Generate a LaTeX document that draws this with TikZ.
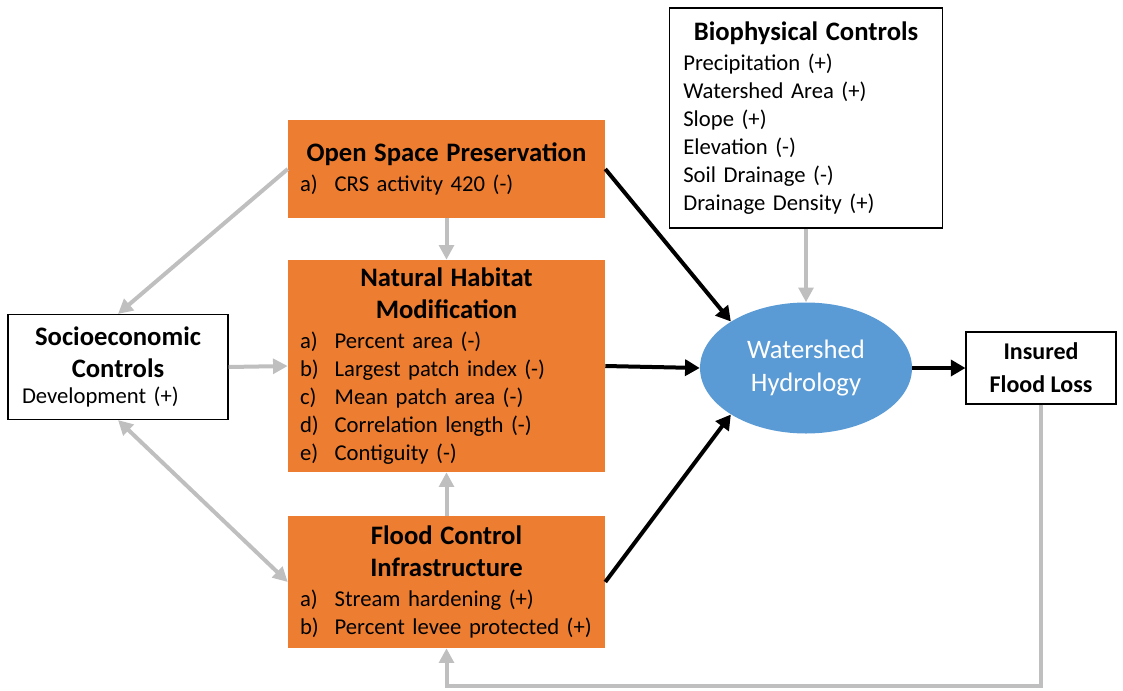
\documentclass[tikz,border=0pt]{standalone}
\usepackage{fontspec}
\setmainfont{Carlito}
\usetikzlibrary{arrows.meta,shapes.geometric}

\definecolor{boxorange}{HTML}{ED7D31}
\definecolor{hydblue}{HTML}{5B9BD5}
\definecolor{linkgray}{HTML}{BFBFBF}

\newcommand{\hd}[1]{\makebox[\hsize][c]{\bfseries\fontsize{20}{24}\selectfont #1}}
\newcommand{\itm}[2]{\makebox[26pt][l]{#1}#2}

\begin{document}
\begin{tikzpicture}[x=0.75pt, y=-0.75pt,
  orangebox/.style={fill=boxorange, inner xsep=9pt, inner ysep=0pt, text width=219.75pt,
    align=left, font=\fontsize{17}{21}\selectfont},
  whitebox/.style={draw, line width=0.8pt, fill=white, inner xsep=10.5pt, inner ysep=0pt,
    align=left, font=\fontsize{17}{21}\selectfont},
  graylink/.style={draw=linkgray, line width=3pt, -{Triangle[length=11pt,width=11pt]}},
  graylinkboth/.style={draw=linkgray, line width=3pt, {Triangle[length=11pt,width=11pt]}-{Triangle[length=11pt,width=11pt]}},
  blacklink/.style={draw=black, line width=3pt, -{Triangle[length=11pt,width=12pt]}}]
\useasboundingbox (0,0) rectangle (1123,690);

% driver boxes
\node[orangebox, minimum height=73.5pt] (osp) at (446.5,169) {\hd{Open Space Preservation}\\[1pt]
  \itm{a)}{CRS activity 420 (-)}};
\node[orangebox, minimum height=159pt] (nhm) at (446.5,366) {\hd{Natural Habitat}\\[3pt]
  \hd{Modification}\\[2pt]
  \itm{a)}{Percent area (-)}\\
  \itm{b)}{Largest patch index (-)}\\
  \itm{c)}{Mean patch area (-)}\\
  \itm{d)}{Correlation length (-)}\\
  \itm{e)}{Contiguity (-)}};
\node[orangebox, minimum height=99pt] (fci) at (446.5,582) {\hd{Flood Control}\\[3pt]
  \hd{Infrastructure}\\[2pt]
  \itm{a)}{Stream hardening (+)}\\
  \itm{b)}{Percent levee protected (+)}};

% controls
\node[whitebox, text width=144pt, minimum height=78.75pt] (soc) at (118,367) {\hd{Socioeconomic}\\[3pt]
  \hd{Controls}\\[-1pt]
  Development (+)};
\node[whitebox, text width=184pt, minimum height=165pt] (bio) at (806,118) {\hd{Biophysical Controls}\\[1pt]
  Precipitation (+)\\
  Watershed Area (+)\\
  Slope (+)\\
  Elevation (-)\\
  Soil Drainage (-)\\
  Drainage Density (+)};

% outcome
\node[ellipse, fill=hydblue, text=white, inner sep=0pt, minimum width=159pt, minimum height=98.25pt,
  align=center, font=\fontsize{20}{24.75}\selectfont] (hyd) at (806,368) {Watershed\\Hydrology};
\node[draw, line width=0.8pt, minimum width=112.5pt, minimum height=54pt, inner sep=0pt, align=center,
  font=\bfseries\fontsize{18}{24.75}\selectfont] (loss) at (1041,368) {Insured\\Flood Loss};
\coordinate (base) at (0,686);

% links
\draw[graylink] (osp.west) -- (soc.north);
\draw[graylink] (soc.east) -- (nhm.west);
\draw[graylinkboth] (soc.south) -- (fci.west);
\draw[graylink] (osp.south) -- (nhm.north);
\draw[graylink] (fci.north) -- (nhm.south);
\draw[graylink] (bio.south) -- (hyd.north);
\draw[graylink] (loss.south) -- (loss.south |- base) -| (fci.south);
\draw[blacklink] (osp.east) -- (hyd.north west);
\draw[blacklink] (nhm.east) -- (hyd.west);
\draw[blacklink] (fci.east) -- (hyd.south west);
\draw[blacklink] (hyd.east) -- (loss.west);
\end{tikzpicture}
\end{document}
